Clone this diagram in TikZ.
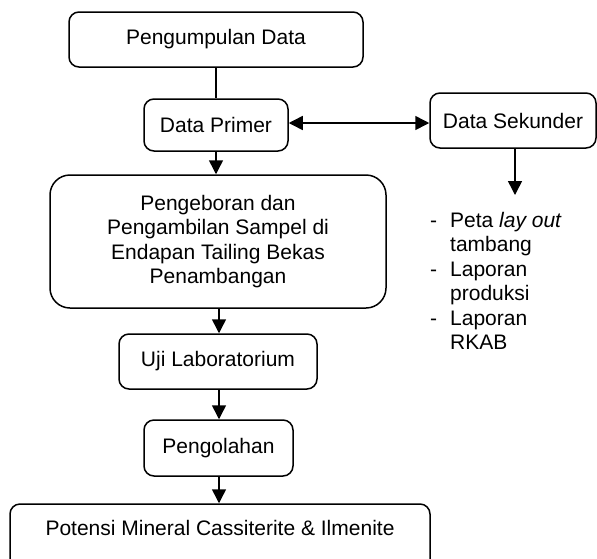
\documentclass[tikz,border=0pt]{standalone}
\usepackage{fontspec}
\setmainfont{Liberation Sans}
\usetikzlibrary{arrows.meta}
\begin{document}
\begin{tikzpicture}[x=1pt,y=-1pt,
  every node/.style={font=\fontsize{21}{24.5}\selectfont},
  box/.style={draw, line width=1.5pt, rounded corners=10pt, inner sep=0pt, align=center},
  conn/.style={line width=1.5pt},
  arr/.style={line width=1.5pt, -{Triangle[length=14pt,width=14pt]}},
  darr/.style={line width=1.5pt, {Triangle[length=14pt,width=14pt]}-{Triangle[length=14pt,width=14pt]}}
]
\useasboundingbox (0,0) rectangle (597,558);
\node[box, minimum width=294pt, minimum height=55pt] (peng) at (216,39.5) {Pengumpulan Data};
\node[box, minimum width=144pt, minimum height=52pt] (primer) at (216,125) {Data Primer};
\node[box, rounded corners=20pt, minimum width=336pt, minimum height=133pt] (bor) at (218,241.5)
  {Pengeboran dan\\Pengambilan Sampel di\\Endapan Tailing Bekas\\Penambangan};
\node[box, minimum width=166pt, minimum height=55pt] (sek) at (513,120.5) {Data Sekunder};
\node[box, minimum width=198pt, minimum height=55pt] (uji) at (218,361.5) {Uji Laboratorium};
\node[box, minimum width=149pt, minimum height=56pt] (olah) at (218.5,448) {Pengolahan};
\node[box, minimum width=420pt, minimum height=70pt] (potbox) at (220,539) {};
\node (pot) at (220,528) {Potensi Mineral Cassiterite \& Ilmenite};
\coordinate (sekend) at (515,195);
\node[anchor=base west, inner sep=0pt] (list) at (430,227)
  {\begin{tabular}[t]{@{}l@{\hspace{13pt}}l@{}}
   - & Peta \textit{lay out}\\
     & tambang\\
   - & Laporan\\
     & produksi\\
   - & Laporan\\
     & RKAB
   \end{tabular}};
\draw[conn] (peng.south -| primer.north) -- (primer.north);
\draw[arr] (primer.south) -- (bor.north -| primer.south);
\draw[darr] (primer.east |- 0,123) -- (sek.west |- 0,123);
\draw[arr] (sek.south -| sekend) -- (sekend);
\draw[arr] (bor.south -| 219,0) -- (uji.north -| 219,0);
\draw[arr] (uji.south -| 219,0) -- (olah.north -| 219,0);
\draw[arr] (olah.south -| 219,0) -- (potbox.north -| 219,0);
\end{tikzpicture}
\end{document}
